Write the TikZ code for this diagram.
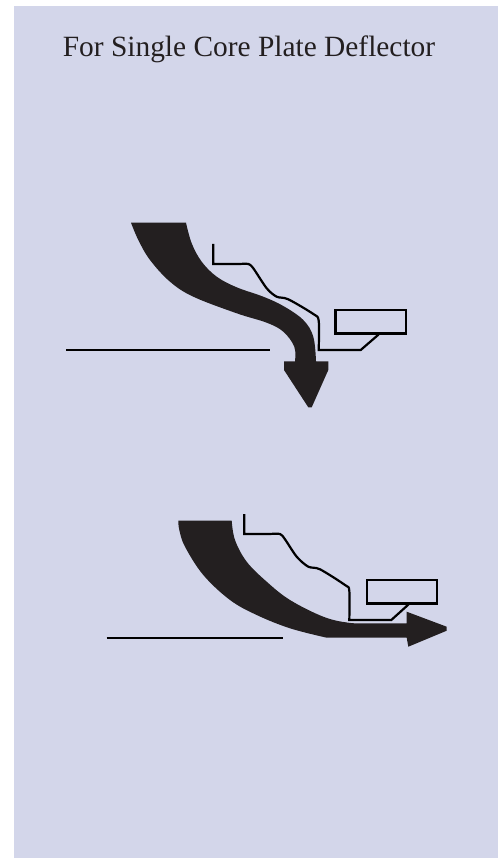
\documentclass[tikz,border=0pt]{standalone}
\usepackage{fontspec}
\setmainfont{Liberation Serif}
\definecolor{panelblue}{HTML}{D3D6EA}
\definecolor{inkblack}{HTML}{231F20}
\tikzset{
  wall/.style={draw=black, line width=2.2pt, line join=miter},
  stream/.style={fill=inkblack, line join=round},
  sensor/.style={draw=black, line width=2.5pt, rectangle, inner sep=0pt, minimum width=70.3pt, minimum height=23.3pt}
}

\begin{document}
\begin{tikzpicture}[x=1pt, y=-1pt]

\useasboundingbox (0,0) rectangle (502,858);
\fill[panelblue] (14,6) rectangle (498,858);

\node[anchor=base, font=\fontsize{29.4}{34}\selectfont, text=inkblack, inner sep=0pt] (title) at (249,57) {For Single Core Plate Deflector};

% upper case
\fill[stream] (131,222.7) -- (186,222.7)
  -- plot[smooth, tension=0.6] coordinates {(186,222.7) (191.7,243.3) (201.7,261.7) (216.7,276.7) (236.7,287.3) (263.3,296.7) (283.3,306) (303.3,320) (313.3,336.7) (316,361.3)}
  -- (328.3,361.3) -- (328.3,370) -- (311.7,407.3) -- (308.3,407.3) -- (284,370) -- (284,361.3) -- (295,361.3)
  -- plot[smooth, tension=0.6] coordinates {(295,361.3) (294.3,346.7) (283.3,331.7) (266.7,322.7) (236.7,313.3) (193.3,296.7) (170,281.7) (150,260) (138.3,240) (131,222.7)}
  -- cycle;

\node[sensor] (box1) at (370.85,321.65) {};
\coordinate (bend1) at (360.7,350);
\draw[wall] (box1.south east) ++(-28.7,0) -- (bend1) -- (318.7,350)
  -- plot[smooth, tension=0.5] coordinates {(318.7,350) (318.7,320.7) (313.3,314) (288.3,299.3) (276.7,296.7) (266.7,288.3) (253.3,268.3) (248.3,264) (240,264)}
  -- (213.3,264) -- (213.3,244);
\draw[wall] (66,350) -- (270,350);

% lower case
\fill[stream] (178.3,520.7) -- (231.7,520.7)
  -- plot[smooth, tension=0.6] coordinates {(231.7,520.7) (235,540) (246.7,561.7) (266.7,581.7) (290,600) (323.3,616.7) (348.3,622.7) (370,623.3) (406.7,623.3)}
  -- (406.7,611.7) -- (446.7,626.7) -- (446.7,630.7) -- (408.3,646.7) -- (406.7,637.7) -- (326.7,637.7)
  -- plot[smooth, tension=0.6] coordinates {(326.7,637.7) (290,628.3) (256.7,615) (230,600) (203.3,575) (185,546.7) (179.3,530) (178.3,520.7)}
  -- cycle;

\node[sensor] (box2) at (402,591.65) {};
\coordinate (bend2) at (391.3,620);
\draw[wall] (box2.south east) ++(-30,0) -- (bend2) -- (349.3,620)
  -- plot[smooth, tension=0.5] coordinates {(349.3,620) (349.3,590.7) (345,585) (320,569.3) (308.3,566.7) (296.7,556.7) (285,539.3) (280,534) (270,534)}
  -- (244.3,534) -- (244.3,514);
\draw[wall] (106.7,637.7) -- (283.3,637.7);

\end{tikzpicture}
\end{document}
